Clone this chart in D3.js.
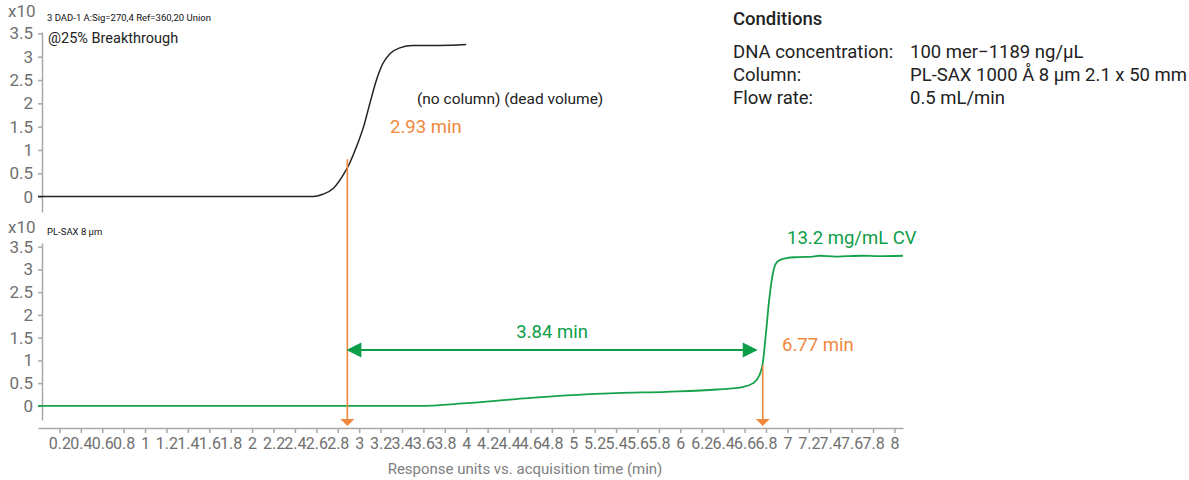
<!DOCTYPE html>
<html>
<head>
<meta charset="utf-8">
<script src="https://cdn.jsdelivr.net/npm/d3@7"></script>
<style>
  body { margin: 0; background: #fff; }
  svg { font-family: Roboto, "Noto Sans", sans-serif; }
  .axis path, .axis line { stroke: #a8a8a8; stroke-width: 1.5; }
  .axis text { fill: #707070; font-size: 16px; font-family: Roboto, sans-serif; }
  .yaxis text { font-size: 17px; }
</style>
</head>
<body>
<svg id="chart" width="1189" height="480"></svg>
<script>
document.addEventListener("DOMContentLoaded", function() {

    // Data
    const noColumnTime  = [0, 2.57, 2.66, 2.76, 2.85, 2.91, 2.98, 3.04, 3.10, 3.16, 3.22, 3.29, 3.38, 3.50, 3.75, 4.00];
    const noColumnValue = [0, 0,    0.05, 0.18, 0.46, 0.71, 1.10, 1.49, 2.00, 2.49, 2.85, 3.07, 3.19, 3.24, 3.24, 3.26];

    const plSaxTime  = [0, 3.55, 4.00, 4.47, 4.94, 5.40, 5.87, 6.34, 6.59, 6.68, 6.74, 6.77, 6.80, 6.83, 6.87, 6.91, 6.99, 7.10, 7.24, 7.30, 7.45, 7.55, 7.70, 7.85, 8.08];
    const plSaxValue = [0, 0,    0.06, 0.15, 0.23, 0.28, 0.31, 0.36, 0.42, 0.50, 0.68, 0.94, 1.60, 2.33, 2.97, 3.18, 3.25, 3.27, 3.28, 3.30, 3.28, 3.29, 3.30, 3.29, 3.30];

    const xTicks = [0.2, 0.4, 0.6, 0.8, 1, 1.2, 1.4, 1.6, 1.8, 2, 2.2, 2.4, 2.6, 2.8, 3, 3.2, 3.4, 3.6, 3.8, 4,
                    4.2, 4.4, 4.6, 4.8, 5, 5.2, 5.4, 5.6, 5.8, 6, 6.2, 6.4, 6.6, 6.8, 7, 7.2, 7.4, 7.6, 7.8, 8];
    const yTicks = [0, 0.5, 1, 1.5, 2, 2.5, 3, 3.5];

    // annotation positions
    const markTimes  = [2.89, 6.77];
    const markLabels = ["2.93 min", "6.77 min"];
    const topMarkValue = 0.8;
    const bottomMarkValue = 0.9;
    const spanLabel = "3.84 min";

    const conditionLabels = ["DNA concentration:", "Column:", "Flow rate:"];
    const conditionValues = ["100 mer\u22121189 ng/\u00b5L", "PL-SAX 1000 \u00c5 8 \u00b5m 2.1 x 50 mm", "0.5 mL/min"];

    const orange = "#f0883e";
    const green = "#0d9e4a";

    const svg = d3.select("#chart");

    // Scales
    const x = d3.scaleLinear().domain([0, 8.08]).range([38, 903]);
    const yTop = d3.scaleLinear().domain([-0.33, 3.53]).range([212, 32]);
    const yBot = d3.scaleLinear().domain([-0.31, 3.58]).range([420, 243]);
    const yAxisX = 42;

    ////////// Y axes //////////
    function drawY(scale) {
        svg.append("g")
            .attr("class", "axis yaxis")
            .attr("transform", `translate(${yAxisX},0)`)
            .call(d3.axisLeft(scale).tickValues(yTicks).tickSize(4).tickPadding(5).tickSizeOuter(0)
                .tickFormat(d3.format("")));
    }
    drawY(yTop);
    drawY(yBot);

    ////////// X axis //////////
    svg.append("g")
        .attr("class", "axis")
        .attr("transform", "translate(0,428)")
        .call(d3.axisBottom(x).tickValues(xTicks).tickSize(5).tickPadding(5).tickSizeOuter(0)
            .tickFormat(d3.format("")));

    svg.append("text")
        .attr("x", 525).attr("y", 474)
        .attr("text-anchor", "middle")
        .attr("fill", "#808080")
        .style("font-size", "15px")
        .text("Response units vs. acquisition time (min)");

    ////////// Lines //////////
    const topLine = d3.line().x(d => x(d[0])).y(d => yTop(d[1])).curve(d3.curveMonotoneX);
    const botLine = d3.line().x(d => x(d[0])).y(d => yBot(d[1])).curve(d3.curveMonotoneX);

    svg.append("path")
        .datum(d3.zip(noColumnTime, noColumnValue))
        .attr("fill", "none")
        .attr("stroke", "#222")
        .attr("stroke-width", 1.5)
        .attr("d", topLine);

    svg.append("path")
        .datum(d3.zip(plSaxTime, plSaxValue))
        .attr("fill", "none")
        .attr("stroke", "#16a24b")
        .attr("stroke-width", 1.8)
        .attr("d", botLine);

    ////////// Panel labels //////////
    [[17, "x10"], [233, "x10"]].forEach(([yy, t]) => {
        svg.append("text").attr("x", 8).attr("y", yy)
            .attr("fill", "#707070").style("font-size", "17px").text(t);
    });
    svg.append("text").attr("x", 47).attr("y", 21)
        .attr("fill", "#111").style("font-size", "9.5px")
        .text("3 DAD-1 A:Sig=270,4  Ref=360,20 Union");
    svg.append("text").attr("x", 48).attr("y", 43)
        .attr("fill", "#222").style("font-size", "14.5px")
        .text("@25% Breakthrough");
    svg.append("text").attr("x", 47).attr("y", 235)
        .attr("fill", "#111").style("font-size", "9.5px")
        .text("PL-SAX 8 \u00b5m");

    ////////// Annotations //////////
    const arrowBottom = 426;
    const markTops = [yTop(topMarkValue), yBot(bottomMarkValue)];
    markTimes.forEach((t, i) => {
        const mx = x(t);
        svg.append("line")
            .attr("x1", mx).attr("x2", mx)
            .attr("y1", markTops[i]).attr("y2", arrowBottom - 4)
            .attr("stroke", orange).attr("stroke-width", 1.6);
        svg.append("path")
            .attr("d", `M${mx - 7},${arrowBottom - 7}L${mx + 7},${arrowBottom - 7}L${mx},${arrowBottom}Z`)
            .attr("fill", orange);
    });

    svg.append("text").attr("x", 390).attr("y", 133)
        .attr("fill", orange).style("font-size", "18.5px").text(markLabels[0]);
    svg.append("text").attr("x", 782).attr("y", 351)
        .attr("fill", orange).style("font-size", "18.5px").text(markLabels[1]);
    svg.append("text").attr("x", 417).attr("y", 104)
        .attr("fill", "#222").style("font-size", "15.5px").text("(no column) (dead volume)");
    svg.append("text").attr("x", 787).attr("y", 244)
        .attr("fill", green).style("font-size", "18.5px").text("13.2 mg/mL CV");

    // double arrow
    const ay = 350;
    const ax1 = x(markTimes[0]) - 1, ax2 = x(markTimes[1]) - 5;
    svg.append("line")
        .attr("x1", ax1 + 12).attr("x2", ax2 - 12)
        .attr("y1", ay).attr("y2", ay)
        .attr("stroke", green).attr("stroke-width", 2);
    svg.append("path")
        .attr("d", `M${ax1},${ay}L${ax1 + 15},${ay - 7.5}L${ax1 + 15},${ay + 7.5}Z`)
        .attr("fill", green);
    svg.append("path")
        .attr("d", `M${ax2},${ay}L${ax2 - 15},${ay - 7.5}L${ax2 - 15},${ay + 7.5}Z`)
        .attr("fill", green);
    svg.append("text").attr("x", (ax1 + ax2) / 2).attr("y", 338)
        .attr("text-anchor", "middle")
        .attr("fill", green).style("font-size", "18.5px").text(spanLabel);

    ////////// Conditions //////////
    svg.append("text").attr("x", 733).attr("y", 25)
        .attr("fill", "#222").style("font-size", "18.5px").style("font-weight", 500)
        .text("Conditions");
    conditionLabels.forEach((lab, i) => {
        svg.append("text").attr("x", 733).attr("y", 58 + i * 23)
            .attr("fill", "#222").style("font-size", "18.5px").text(lab);
        svg.append("text").attr("x", 910).attr("y", 58 + i * 23)
            .attr("fill", "#222").style("font-size", "18.5px").text(conditionValues[i]);
    });

});
</script>
</body>
</html>
